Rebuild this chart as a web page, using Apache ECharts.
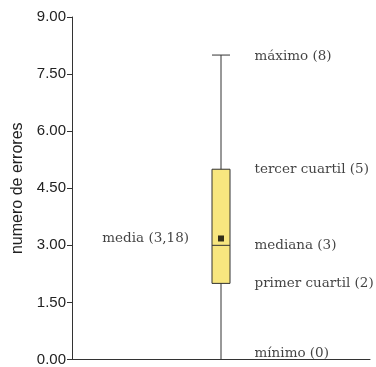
<!DOCTYPE html>
<html>
<head>
<meta charset="utf-8">
<script src="https://cdn.jsdelivr.net/npm/echarts@6/dist/echarts.min.js"></script>
<style>
  html, body { margin: 0; padding: 0; background: #fff; }
  #main { width: 376px; height: 367px; }
</style>
</head>
<body>
<div id="main"></div>
<script>
// datos del diagrama de caja
var categories = ['errores']
var boxValues = [0, 2, 3, 5, 8]  // min, Q1, mediana, Q3, max
var statNames = ['mínimo', 'primer cuartil', 'mediana', 'tercer cuartil', 'máximo']
var meanValue = 3.18
var yTicks = [0, 1.5, 3, 4.5, 6, 7.5, 9]

var serifFont = '"DejaVu Serif", "Liberation Serif", serif'
var sansFont = '"Liberation Sans", Arial, sans-serif'

// puntos de las etiquetas (invisibles), uno por estadistico
var labelPoints = statNames.map(function (n, i) {
  return {
    value: [0, boxValues[i]],
    name: n,
    label: { offset: i === 0 ? [0, -6] : (i === 4 ? [0, 1] : [0, 0]) }
  }
})

var myChart = echarts.init(document.getElementById('main'))
var option = {
  animation: false,
  grid: { left: 72, right: 6, top: 17, bottom: 7 },
  xAxis: {
    type: 'category',
    data: categories,
    axisLine: { lineStyle: { color: '#333', width: 1 } },
    axisTick: { show: false },
    axisLabel: { show: false },
    splitLine: { show: false }
  },
  yAxis: {
    type: 'value',
    min: yTicks[0],
    max: yTicks[yTicks.length - 1],
    interval: 1.5,
    name: 'numero de errores',
    nameLocation: 'middle',
    nameGap: 45,
    nameTextStyle: { fontFamily: sansFont, fontSize: 16, color: '#222' },
    axisLine: { show: true, lineStyle: { color: '#333', width: 1 } },
    axisTick: { show: true, length: 5, lineStyle: { color: '#333' } },
    axisLabel: {
      fontFamily: sansFont,
      fontSize: 15,
      color: '#222',
      margin: 6,
      formatter: function (v) { return v.toFixed(2) }
    },
    splitLine: { show: false }
  },
  series: [
    {
      type: 'boxplot',
      data: [boxValues],
      boxWidth: [18, 18],
      itemStyle: { color: '#f7e67f', borderColor: '#333', borderWidth: 1 }
    },
    {
      type: 'scatter',
      data: [[0, meanValue]],
      symbol: 'rect',
      symbolSize: 6,
      itemStyle: { color: '#000' },
      label: {
        show: true,
        position: 'left',
        distance: 29,
        fontFamily: serifFont,
        fontSize: 13.5,
        color: '#111',
        formatter: function () { return 'media (' + String(meanValue).replace('.', ',') + ')' }
      },
      z: 5
    },
    {
      type: 'scatter',
      data: labelPoints,
      symbolSize: 1,
      itemStyle: { color: 'rgba(0,0,0,0)' },
      label: {
        show: true,
        position: 'right',
        distance: 33,
        fontFamily: serifFont,
        fontSize: 13.5,
        color: '#111',
        formatter: function (p) { return p.name + ' (' + p.value[1] + ')' }
      },
      silent: true
    }
  ]
}
myChart.setOption(option)
</script>
</body>
</html>
